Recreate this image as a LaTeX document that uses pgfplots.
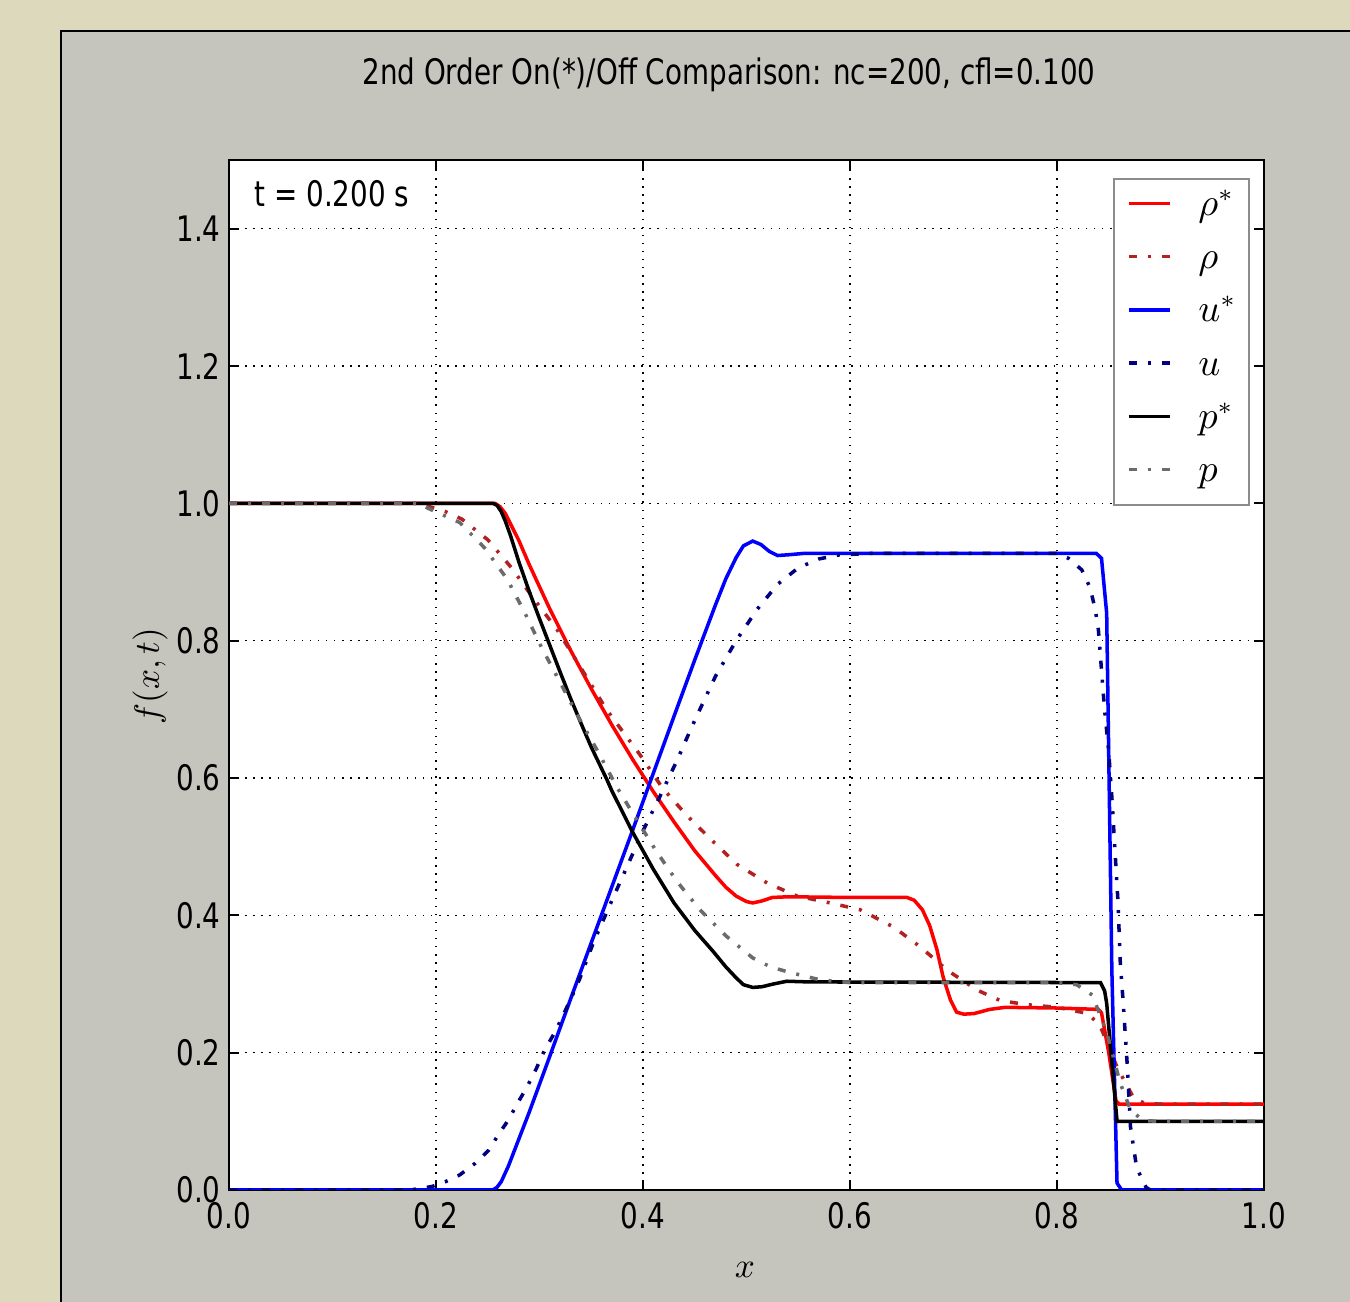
\documentclass[border=0pt]{standalone}
\usepackage{pgfplots}
\pgfplotsset{compat=1.18}
\usepackage{pgfplotstable}
\usepackage{fontspec}
\setmainfont{DejaVu Sans}[FakeStretch=0.79]

\definecolor{outerbg}{HTML}{DCD9BC}
\definecolor{panelbg}{HTML}{C5C5BD}
\definecolor{rhoold}{HTML}{B22222}
\definecolor{uold}{HTML}{000080}
\definecolor{pold}{HTML}{6B6B6B}
\definecolor{legframe}{HTML}{8C8C8C}

% 2nd order on (*)
\pgfplotstableread{
x y
0 1
0.257 1
0.262 0.995
0.267 0.985
0.272 0.970
0.28 0.946
0.29 0.911
0.31 0.846
0.33 0.786
0.35 0.730
0.37 0.677
0.39 0.627
0.41 0.580
0.43 0.536
0.45 0.494
0.47 0.458
0.48 0.441
0.49 0.428
0.50 0.420
0.506 0.418
0.515 0.421
0.525 0.426
0.54 0.427
0.60 0.426
0.655 0.426
0.662 0.422
0.670 0.408
0.677 0.385
0.684 0.350
0.690 0.310
0.697 0.277
0.703 0.259
0.710 0.256
0.720 0.257
0.735 0.263
0.750 0.266
0.800 0.265
0.840 0.263
0.843 0.258
0.850 0.200
0.857 0.130
0.860 0.125
1.0 0.125
}\rhostar

\pgfplotstableread{
x y
0 0
0.255 0
0.259 0.004
0.263 0.012
0.27 0.035
0.29 0.113
0.31 0.195
0.33 0.278
0.35 0.360
0.37 0.442
0.39 0.524
0.41 0.607
0.43 0.690
0.45 0.772
0.47 0.852
0.48 0.890
0.49 0.921
0.497 0.938
0.506 0.945
0.514 0.940
0.522 0.930
0.530 0.924
0.540 0.925
0.555 0.927
0.838 0.927
0.843 0.920
0.848 0.840
0.853 0.320
0.858 0.010
0.8625 0
1.0 0
}\ustar

\pgfplotstableread{
x y
0 1
0.255 1
0.259 0.997
0.263 0.988
0.267 0.974
0.272 0.953
0.28 0.915
0.29 0.872
0.30 0.832
0.31 0.793
0.32 0.754
0.33 0.716
0.34 0.680
0.35 0.645
0.365 0.598
0.37 0.581
0.39 0.521
0.41 0.467
0.43 0.418
0.45 0.378
0.468 0.347
0.48 0.325
0.49 0.309
0.497 0.299
0.506 0.295
0.515 0.296
0.526 0.300
0.539 0.304
0.56 0.303
0.842 0.302
0.846 0.290
0.848 0.272
0.858 0.100
1.0 0.100
}\pstar

% 2nd order off
\pgfplotstableread{
x y
0 1
0.185 1
0.194 0.995
0.209 0.988
0.225 0.977
0.25 0.947
0.273 0.906
0.294 0.862
0.317 0.816
0.336 0.770
0.365 0.699
0.397 0.634
0.419 0.585
0.442 0.546
0.468 0.507
0.491 0.474
0.52 0.447
0.549 0.428
0.581 0.418
0.61 0.408
0.642 0.383
0.668 0.354
0.694 0.320
0.723 0.291
0.745 0.276
0.77 0.270
0.80 0.266
0.83 0.257
0.842 0.238
0.858 0.179
0.874 0.134
0.885 0.126
0.90 0.125
1.0 0.125
}\rhooff

\pgfplotstableread{
x y
0 0
0.175 0
0.196 0.005
0.209 0.012
0.223 0.022
0.238 0.039
0.251 0.058
0.26 0.080
0.27 0.102
0.279 0.127
0.288 0.150
0.297 0.177
0.305 0.204
0.315 0.230
0.323 0.255
0.331 0.281
0.339 0.308
0.352 0.360
0.368 0.415
0.384 0.469
0.399 0.520
0.416 0.572
0.433 0.626
0.447 0.674
0.455 0.700
0.47 0.748
0.49 0.800
0.51 0.845
0.53 0.882
0.55 0.906
0.57 0.919
0.59 0.925
0.62 0.927
0.80 0.927
0.811 0.920
0.824 0.903
0.832 0.877
0.837 0.845
0.840 0.816
0.843 0.757
0.846 0.699
0.850 0.638
0.853 0.572
0.856 0.495
0.859 0.418
0.861 0.335
0.864 0.272
0.868 0.179
0.871 0.092
0.877 0.032
0.886 0.004
0.89 0
1.0 0
}\uoff

\pgfplotstableread{
x y
0 1
0.185 1
0.192 0.993
0.223 0.972
0.247 0.935
0.269 0.889
0.286 0.840
0.302 0.790
0.32 0.739
0.339 0.685
0.357 0.637
0.375 0.586
0.394 0.539
0.413 0.493
0.433 0.449
0.455 0.408
0.481 0.369
0.506 0.338
0.523 0.325
0.539 0.318
0.571 0.306
0.60 0.302
0.80 0.302
0.819 0.299
0.834 0.284
0.848 0.230
0.861 0.156
0.871 0.117
0.883 0.101
0.90 0.100
1.0 0.100
}\poff

\begin{document}
\begin{tikzpicture}
\useasboundingbox (0,0) rectangle (135mm,130.2mm);
\fill[outerbg] (0,0) rectangle (135mm,130.2mm);
\fill[panelbg] (6mm,0) rectangle (135mm,127.2mm);
\draw[line width=0.6pt] (6.1mm,-1mm) -- (6.1mm,127.1mm) -- (136mm,127.1mm);

\begin{axis}[
    at={(22.9mm,11.2mm)}, anchor=south west,
    scale only axis, width=103.5mm, height=103mm,
    xmin=0, xmax=1, ymin=0, ymax=1.5,
    axis background/.style={fill=white},
    axis line style={line width=0.6pt},
    xtick={0,0.2,0.4,0.6,0.8,1},
    xticklabels={0.0,0.2,0.4,0.6,0.8,1.0},
    ytick={0,0.2,0.4,0.6,0.8,1.0,1.2,1.4},
    yticklabels={0.0,0.2,0.4,0.6,0.8,1.0,1.2,1.4},
    yticklabel style={xshift=0.4mm},
    tick align=inside, major tick length=1mm,
    tick style={black, line width=0.6pt},
    tick label style={font=\fontsize{10}{12}\selectfont},
    grid=major,
    major grid style={black, line width=0.35pt, dash pattern=on 0.4pt off 1.9pt},
    legend cell align=left,
    legend style={at={(rel axis cs:1,1)}, anchor=north east,
        xshift=-1.4mm, yshift=-1.8mm,
        draw=legframe, line width=0.6pt, fill=white,
        inner xsep=1.25mm, inner ysep=1.65mm,
        row sep=2.62mm, column sep=2.7mm,
        font=\fontsize{10.5}{12}\selectfont,
        nodes={inner sep=0pt, text height=2.0mm, text depth=0.7mm}},
    legend image code/.code={\draw[#1] (0mm,0.55mm) -- (4.1mm,0.55mm);},
    every axis plot/.append style={line width=1pt},
    dashdot/.style={dash pattern=on 0.8mm off 1.1mm on 0.3mm off 1.1mm},
]
\addplot[red] table {\rhostar};
\addlegendentry{$\rho^*$}
\addplot[rhoold, dashdot] table {\rhooff};
\addlegendentry{$\rho$}
\addplot[blue] table {\ustar};
\addlegendentry{$u^*$}
\addplot[uold, dashdot] table {\uoff};
\addlegendentry{$u$}
\addplot[black] table {\pstar};
\addlegendentry{$p^*$}
\addplot[pold, dashdot] table {\poff};
\addlegendentry{$p$}
\end{axis}

\node[anchor=base, font=\fontsize{10}{12}\selectfont] at (72.9mm,121.7mm)
    {2nd Order On(*)/Off Comparison: nc=200, cfl=0.100};
\node[anchor=base west, inner sep=0pt, font=\fontsize{10}{12}\selectfont] at (25.4mm,109.5mm)
    {t = 0.200 s};
\node[font=\fontsize{10}{12}\selectfont] at (74.5mm,3.2mm) {$x$};
\node[rotate=90, font=\fontsize{10}{12}\selectfont] at (15mm,62.6mm) {$f(x,t)$};
\end{tikzpicture}
\end{document}
